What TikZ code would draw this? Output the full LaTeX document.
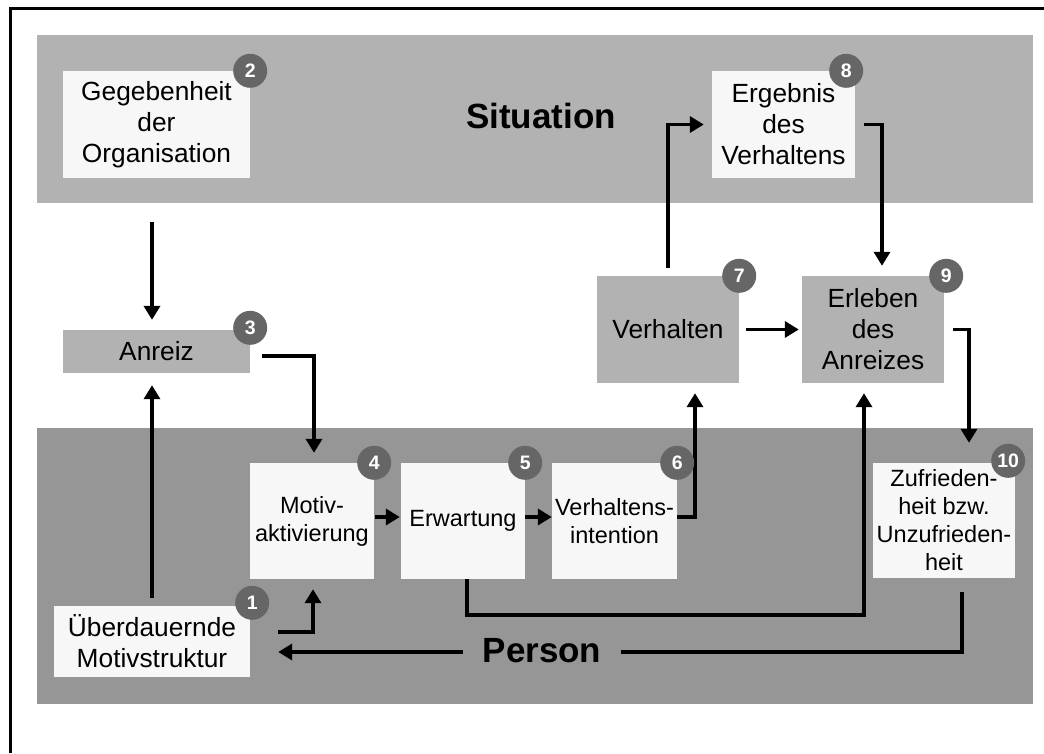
\documentclass[tikz,border=0pt]{standalone}
\usepackage{fontspec}
\setmainfont{Liberation Sans}
\usetikzlibrary{arrows.meta,calc}
\definecolor{bandtop}{HTML}{B2B2B2}
\definecolor{bandbot}{HTML}{969696}
\definecolor{boxlight}{HTML}{F7F7F7}
\definecolor{dotgray}{HTML}{666666}

\begin{document}
\begin{tikzpicture}[x=1pt,y=-1pt,
  lightbox/.style={fill=boxlight, inner sep=0pt, align=center,
    font=\fontsize{26.3}{31}\selectfont},
  graybox/.style={lightbox, fill=bandtop},
  smallbox/.style={lightbox, font=\fontsize{23.5}{28}\selectfont},
  numdot/.style={circle, fill=dotgray, minimum size=34pt, inner sep=0pt,
    text=white, font=\fontsize{19.5}{19.5}\selectfont\bfseries},
  title/.style={font=\fontsize{35}{40}\selectfont\bfseries},
  conn/.style={line width=3.8pt},
  arr/.style={conn, -{Triangle[length=14pt,width=16pt]}}
]
\useasboundingbox (0,0) rectangle (1044,753);

% background bands
\fill[bandtop] (37,35) rectangle (1033,203);
\fill[bandbot] (37,428) rectangle (1033,704);

% frame
\draw[line width=3pt] (10.5,753) -- (10.5,8.5) -- (1044,8.5);

% section titles
\node[title, anchor=base] (sit) at (541,128) {Situation};
\node[title, anchor=base, inner xsep=19pt] (pers) at (542,662) {Person};

% boxes
\node[lightbox, minimum width=187pt, minimum height=107pt] (gegeb) at (156.5,124.5) {Gegebenheit\\der\\Organisation};
\node[lightbox, minimum width=143pt, minimum height=107pt] (ergeb) at (783.5,124.5) {Ergebnis\\des\\Verhaltens};
\node[graybox, minimum width=187pt, minimum height=43pt] (anreiz) at (156.5,351.5) {Anreiz};
\node[graybox, minimum width=142pt, minimum height=107pt] (verhalten) at (668,329.5) {Verhalten};
\node[graybox, minimum width=142pt, minimum height=107pt] (erleben) at (873,329.5) {Erleben\\des\\Anreizes};
\node[smallbox, minimum width=124pt, minimum height=116pt] (motiv) at (312,521) {Motiv-\\aktivierung};
\node[smallbox, minimum width=124pt, minimum height=116pt] (erwart) at (463,521) {Erwartung};
\node[smallbox, minimum width=125pt, minimum height=116pt] (vint) at (614.5,521) {Verhaltens-\\intention};
\node[smallbox, minimum width=142pt, minimum height=115pt] (zufr) at (944,520.5) {Zufrieden-\\heit bzw.\\Unzufrieden-\\heit};
\node[lightbox, minimum width=196pt, minimum height=71pt] (ueber) at (152,641.5) {Überdauernde\\Motivstruktur};

% helper rows
\coordinate (looprow) at (0,615);
\coordinate (prow) at (0,652);
\coordinate (erlin) at ([xshift=-9pt]erleben.south);

% connectors
\draw[arr, shorten <=44pt, shorten >=10pt] (gegeb.south -| ueber.north) -- (anreiz.north -| ueber.north);
\draw[arr, shorten <=8pt, shorten >=12pt] (ueber.north) -- (anreiz.south -| ueber.north);
\draw[arr, shorten <=12pt, shorten >=10pt] ([yshift=-4.5pt]anreiz.east) -| ([xshift=2pt]motiv.north);
\draw[arr, shorten <=28pt, shorten >=10pt] ([yshift=9.5pt]ueber.east) -| ([xshift=1pt]motiv.south);
\draw[arr, shorten <=1pt, shorten >=1pt] ([yshift=4pt]motiv.east) -- ([yshift=4pt]erwart.west);
\draw[arr] ([yshift=4pt]erwart.east) -- ([yshift=4pt]vint.west);
\draw[arr, shorten >=10pt] ([yshift=4pt]vint.east) -| ([xshift=27pt]verhalten.south);
\draw[arr, shorten <=8pt, shorten >=8pt] (verhalten.north) |- (ergeb.west);
\draw[arr, shorten <=9pt, shorten >=10pt] (ergeb.east) -| ([xshift=9pt]erleben.north);
\draw[arr, shorten <=7pt, shorten >=3pt] (verhalten.east) -- (erleben.west);
\draw[arr, shorten <=9pt, shorten >=20pt] (erleben.east) -| ([xshift=25pt]zufr.north);
\draw[arr, shorten >=10pt] ([xshift=4pt]erwart.south) |- (looprow -| erlin) -- (erlin);
\draw[conn, shorten <=14pt] ([xshift=18pt]zufr.south) |- (prow -| pers.east);
\draw[arr, shorten >=28pt] (prow -| pers.west) -- (prow -| ueber.east);

% step numbers
\node[numdot] (n1) at ([xshift=2pt,yshift=3pt]ueber.north east) {1};
\node[numdot] (n2) at (gegeb.north east) {2};
\node[numdot] (n3) at ([yshift=2pt]anreiz.north east) {3};
\node[numdot] (n4) at (motiv.north east) {4};
\node[numdot] (n5) at (erwart.north east) {5};
\node[numdot] (n6) at (vint.north east) {6};
\node[numdot] (n7) at (verhalten.north east) {7};
\node[numdot] (n8) at ([xshift=-9pt]ergeb.north east) {8};
\node[numdot] (n9) at ([xshift=2pt]erleben.north east) {9};
\node[numdot] (n10) at ([xshift=-7pt,yshift=2pt]zufr.north east) {10};
\end{tikzpicture}
\end{document}
